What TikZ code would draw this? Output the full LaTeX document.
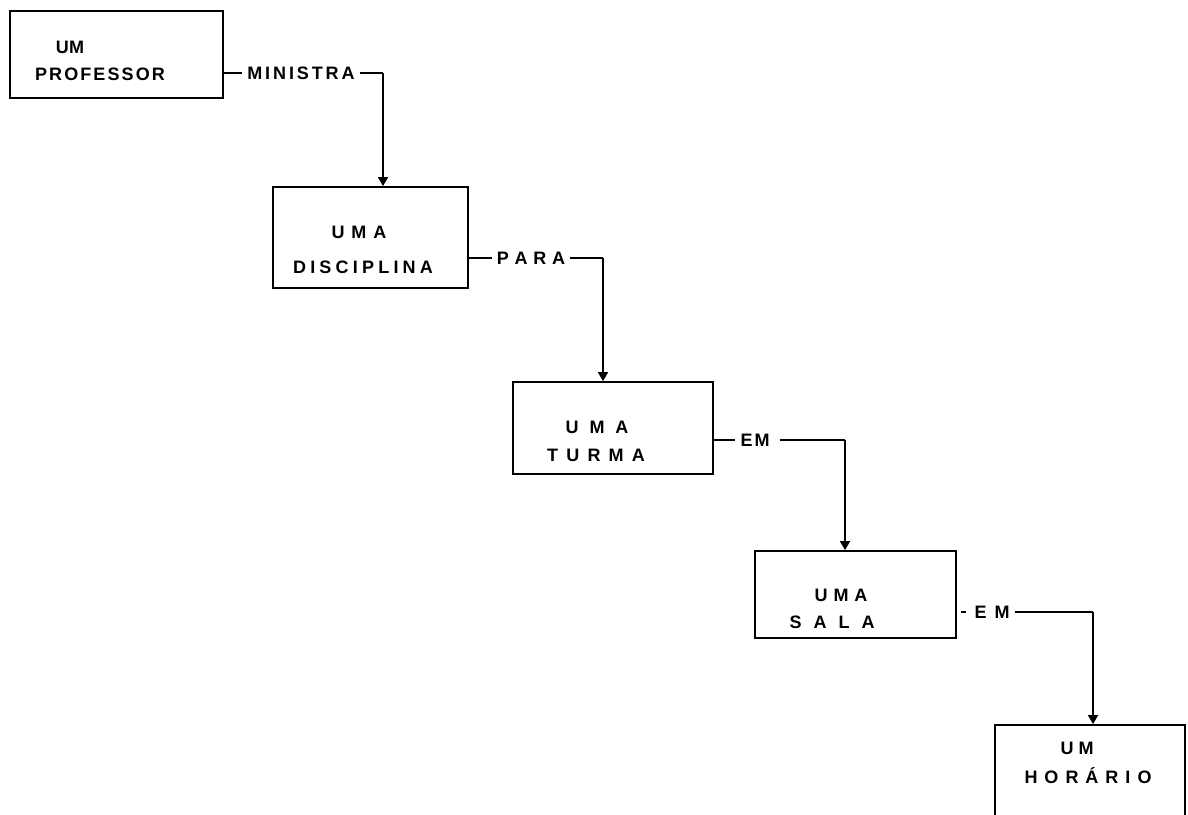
\documentclass[tikz,border=0pt]{standalone}
\usepackage{fontspec}
\setmainfont{Liberation Sans}
\usetikzlibrary{arrows.meta}
\newcommand\lsp[2]{\def\lspk{#1}\lspA#2\relax}
\def\lspA#1{#1\lspB}
\def\lspB#1{\ifx#1\relax\else\kern\lspk\relax#1\expandafter\lspB\fi}
\tikzset{
  box/.style={draw, line width=1.8pt, inner sep=0pt},
  txt/.style={font=\bfseries\fontsize{18}{20}\selectfont, inner sep=0pt, text height=12.9pt, text depth=0pt},
  lab/.style={txt, inner sep=4pt},
  con/.style={line width=1.6pt},
  arr/.style={con, -{Triangle[width=10pt,length=9pt]}}
}
\begin{document}
\begin{tikzpicture}[x=1pt,y=-1pt]
\clip (0,0) rectangle (1188,814);
\fill[white] (0,0) rectangle (1188,814);
% boxes
\node[box, minimum width=213pt, minimum height=87pt] (prof) at (116.5,54.5) {};
\node[box, minimum width=195pt, minimum height=101pt] (disc) at (370.5,237.5) {};
\node[box, minimum width=200pt, minimum height=92pt] (turma) at (613,428) {};
\node[box, minimum width=201pt, minimum height=87pt] (sala) at (855.5,594.5) {};
\node[box, minimum width=190pt, minimum height=105pt] (hora) at (1090,777.5) {};
% box texts
\node[txt] (t1a) at (70,47) {\lsp{0.5pt}{UM}};
\node[txt] (t1b) at (100,74) {\lsp{2.1pt}{PROFESSOR}};
\node[txt] (t2a) at (359,232) {\lsp{7pt}{UMA}};
\node[txt] (t2b) at (363,267) {\lsp{4.2pt}{DISCIPLINA}};
\node[txt] (t3a) at (597,427) {\lsp{11pt}{UMA}};
\node[txt] (t3b) at (596,455) {\lsp{8.2pt}{TURMA}};
\node[txt] (t4a) at (841,595) {\lsp{6pt}{UMA}};
\node[txt] (t4b) at (832,622) {\lsp{12pt}{SALA}};
\node[txt] (t5a) at (1077,748) {\lsp{5pt}{UM}};
\node[txt] (t5b) at (1088,777) {\lsp{7pt}{HORÁRIO}};
% labels
\node[lab] (l1) at (301,73) {\lsp{2.9pt}{MINISTRA}};
\node[lab] (l2) at (531,258) {\lsp{5.7pt}{PARA}};
\node[lab] (l3) at (755,440) {\lsp{2pt}{EM}};
\node[lab] (l4) at (992,612) {\lsp{8pt}{EM}};
\coordinate (c1) at (383,73);
\coordinate (c2) at (603,258);
\coordinate (c3) at (845,440);
\coordinate (c4) at (1093,612);
% connectors
\draw[con] (prof.east |- l1) -- ([xshift=-1pt]l1.west);
\draw[con] ([xshift=1pt]l1.east) -- (c1);
\draw[arr] (c1) -- (c1 |- disc.north);
\draw[con] (disc.east |- l2) -- ([xshift=-1pt]l2.west);
\draw[con] ([xshift=1pt]l2.east) -- (c2);
\draw[arr] (c2) -- (c2 |- turma.north);
\draw[con] (turma.east |- l3) -- ([xshift=-1pt]l3.west);
\draw[con] ([xshift=6pt]l3.east) -- (c3);
\draw[arr] (c3) -- (c3 |- sala.north);
\draw[con] ([xshift=4pt]sala.east |- l4) -- ([xshift=-4pt]l4.west);
\draw[con] ([xshift=1pt]l4.east) -- (c4);
\draw[arr] (c4) -- (c4 |- hora.north);
\end{tikzpicture}
\end{document}
